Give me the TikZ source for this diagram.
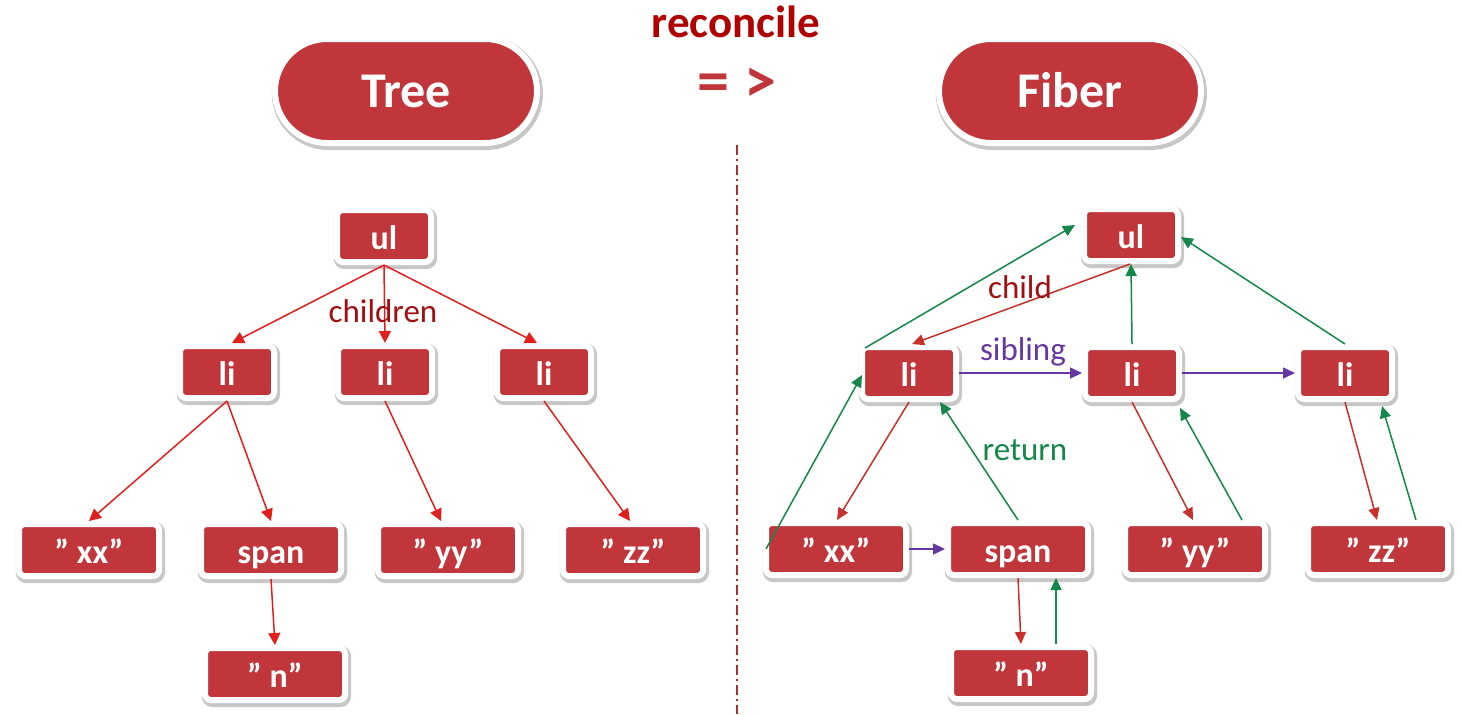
\documentclass[tikz,border=0pt]{standalone}
\usepackage{fontspec}
\setmainfont{Carlito}
\usetikzlibrary{arrows.meta,shadows,calc}
\definecolor{boxred}{HTML}{C1363B}
\definecolor{titlered}{HTML}{B00000}
\definecolor{labred}{HTML}{A01010}
\definecolor{arrred}{HTML}{E0201C}
\definecolor{arrred2}{HTML}{C8302A}
\definecolor{arrgreen}{HTML}{15874A}
\definecolor{arrpurple}{HTML}{6438A0}
\definecolor{sepred}{HTML}{A03030}
\begin{document}
\begin{tikzpicture}[x=0.5pt,y=-0.5pt,
  box/.style={rectangle,rounded corners=3pt,fill=boxred,draw=white,line width=3pt,
    outer sep=1.5pt,inner sep=0pt,text=white,
    font=\bfseries\fontsize{17}{17}\selectfont,text height=14pt,text depth=1pt,
    drop shadow={opacity=0.22,draw=black,line width=4.6pt,shadow xshift=0.7pt,shadow yshift=-1.2pt}},
  small/.style={box,minimum width=47pt,minimum height=26pt},
  wide/.style={box,minimum width=70pt,minimum height=26pt},
  pill/.style={box,rounded corners=26pt,minimum width=131pt,minimum height=52pt,
    font=\bfseries\fontsize{25}{25}\selectfont,text height=17pt,text depth=1pt},
  lab/.style={font=\fontsize{16.5}{16.5}\selectfont},
  tarr/.style={-{Triangle[length=6pt,width=6pt]},line width=0.75pt,draw=arrred,arrred},
  rarr/.style={-{Triangle[length=6pt,width=5.5pt]},line width=0.75pt,draw=arrred2},
  garr/.style={-{Triangle[length=6pt,width=5.5pt]},line width=0.75pt,draw=arrgreen},
  parr/.style={-{Triangle[length=6pt,width=5.5pt]},line width=0.75pt,draw=arrpurple}]
\useasboundingbox (0,0) rectangle (1461,714);
\fill[white] (0,0) rectangle (1461,714);

% titles
\node[pill] (tree) at (406,91) {Tree};
\node[pill] (fiber) at (1070,91) {Fiber};
\node[font=\bfseries\fontsize{22.5}{22.5}\selectfont,text=titlered] (rec) at (736,22) {reconcile};
\node[font=\bfseries\fontsize{32}{32}\selectfont,text=boxred] (arrow) at (737,85) {= >};
\coordinate (septop) at (737,145);
\coordinate (sepbot) at (737,714);
\draw[sepred,line width=0.6pt,dash pattern=on 5pt off 2pt on 1pt off 2pt] (septop) -- (sepbot);

% left tree
\node[small] (Lul) at (384,236) {ul};
\node[small] (Lli1) at (227,372) {li};
\node[small] (Lli2) at (385,372) {li};
\node[small] (Lli3) at (544,372) {li};
\node[wide] (Lxx) at (89,550) {” xx”};
\node[wide] (Lspan) at (271,550) {span};
\node[wide] (Ln) at (275,674) {” n”};
\node[wide] (Lyy) at (448,550) {” yy”};
\node[wide] (Lzz) at (633,550) {” zz”};

\draw[tarr] (Lul.south) -- ([xshift=2.5pt]Lli1.north);
\draw[tarr] (Lul.south) -- (Lli2.north);
\draw[tarr] (Lul.south) -- ([xshift=-3.5pt]Lli3.north);
\draw[tarr] (Lli1.south) -- (Lxx.north);
\draw[tarr] (Lli1.south) -- (Lspan.north);
\draw[tarr] (Lli2.south) -- ([xshift=-3.5pt]Lyy.north);
\draw[tarr] (Lli3.south) -- ([xshift=-1.5pt]Lzz.north);
\draw[tarr] (Lspan.south) -- ([xshift=0pt]Ln.north);
\node[lab,text=labred] (children) at (383,311) {children};

% right tree (fiber)
\node[small] (Rul) at (1131,235) {ul};
\node[small] (Rli1) at (909,373) {li};
\node[small] (Rli2) at (1132,373) {li};
\node[small] (Rli3) at (1345,373) {li};
\node[wide] (Rxx) at (836,549) {” xx”};
\node[wide] (Rspan) at (1018,549) {span};
\node[wide] (Rn) at (1021,673) {” n”};
\node[wide] (Ryy) at (1195,549) {” yy”};
\node[wide] (Rzz) at (1378,549) {” zz”};

\draw[garr] ([xshift=1.5pt]Rxx.west) -- ([xshift=1.5pt,yshift=-1pt]Rli1.west);
\draw[garr] ([xshift=3pt,yshift=-2pt]Rli1.north west) -- ([xshift=-3pt,yshift=5pt]Rul.west);
\draw[rarr] ([xshift=-0.5pt]Rul.south) -- ([xshift=1.5pt]Rli1.north);
\draw[parr] (Rli1.east) -- (Rli2.west);
\draw[parr] (Rli2.east) -- (Rli3.west);
\draw[garr] (Rli2.north) -- (Rul.south);
\draw[garr] (Rli3.north) -- ([yshift=-1pt]Rul.east);
\draw[rarr] (Rli1.south) -- ([xshift=0.5pt]Rxx.north);
\draw[garr] (Rspan.north) -- ([xshift=-9.5pt]Rli1.south east);
\draw[parr] (Rxx.east) -- (Rspan.west);
\draw[rarr] (Rspan.south) -- (Rn.north);
\draw[garr] ([xshift=17.5pt]Rn.north) -- ([xshift=19pt]Rspan.south);
\draw[rarr] (Rli2.south) -- ([xshift=-1pt]Ryy.north);
\draw[garr] ([xshift=23.5pt]Ryy.north) -- ([xshift=-1pt,yshift=-3pt]Rli2.south east);
\draw[rarr] (Rli3.south) -- ([xshift=-0.5pt]Rzz.north);
\draw[garr] ([xshift=19pt]Rzz.north) -- ([xshift=-6.5pt,yshift=-2pt]Rli3.south east);

\node[lab,text=labred] (child) at (1020,287) {child};
\node[lab,text=arrpurple] (sibling) at (1023,352) {sibling};
\node[lab,text=arrgreen] (return) at (1025,450) {return};
\end{tikzpicture}
\end{document}
